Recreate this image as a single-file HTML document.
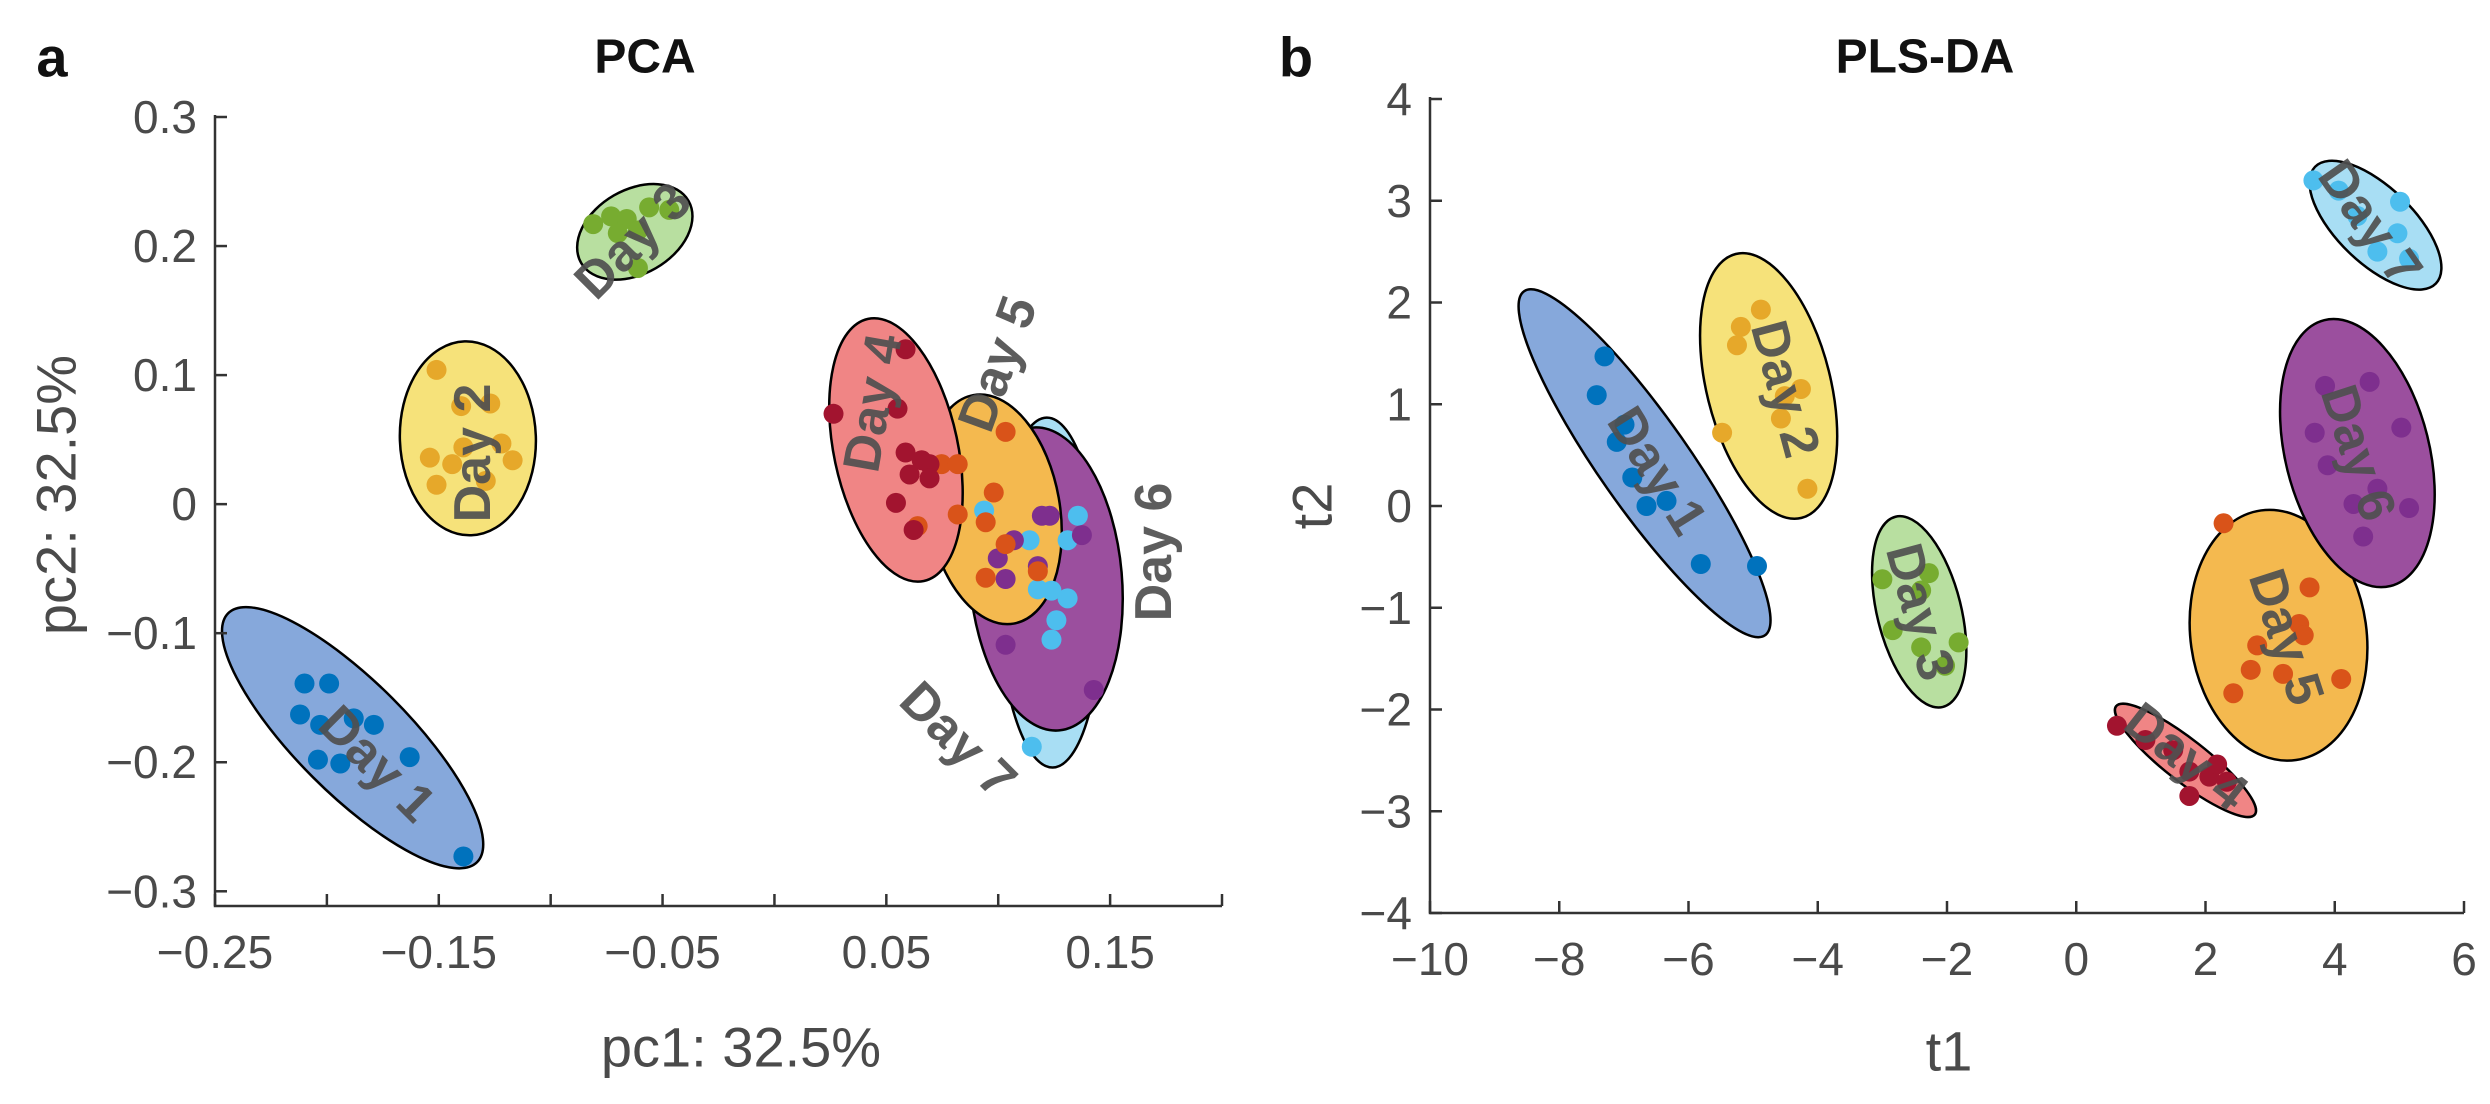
<!DOCTYPE html>
<html><head><meta charset="utf-8">
<style>
html,body{margin:0;padding:0;background:#fff;}
svg{display:block;font-family:"Liberation Sans",Arial,sans-serif;}
.tick{font-size:46px;fill:#4a4a4a;}
.axt{font-size:56px;fill:#4a4a4a;}
.ttl{font-size:48px;font-weight:bold;fill:#111;}
.lab{font-size:52px;font-weight:bold;fill:#505050;opacity:0.92;}
</style></head>
<body>
<svg id="chart" width="2490" height="1104" viewBox="0 0 2490 1104" xmlns="http://www.w3.org/2000/svg">
<g id="pa"></g>
<g id="pb"></g>
</svg>
<script>
// ---- shared ----
const dayNames = ["Day 1","Day 2","Day 3","Day 4","Day 5","Day 6","Day 7"];
const fillColors = ["#86a8db","#f6e27a","#b8dfa0","#f08585","#f4b94f","#9b4f9e","#a8def4"];
const dotColors = ["#0072bd","#e6a82a","#77ac30","#a2142f","#d95319","#7e2f8e","#4dbeee"];

// ---- Panel a (PCA) data ----
const pcaXTicks = [-0.25,-0.2,-0.15,-0.1,-0.05,0,0.05,0.1,0.15,0.2];
const pcaXTickLabels = ["\u22120.25","","\u22120.15","","\u22120.05","","0.05","","0.15",""];
const pcaYTicks = [0.3,0.2,0.1,0,-0.1,-0.2,-0.3];
const pcaYTickLabels = ["0.3","0.2","0.1","0","\u22120.1","\u22120.2","\u22120.3"];
const pcaX = [
 [-0.210,-0.199,-0.212,-0.203,-0.188,-0.179,-0.204,-0.194,-0.163,-0.139],
 [-0.151,-0.140,-0.127,-0.122,-0.117,-0.154,-0.144,-0.151,-0.129,-0.139],
 [-0.081,-0.073,-0.066,-0.056,-0.047,-0.070,-0.061,-0.061],
 [0.0586,0.0264,0.0550,0.0586,0.0604,0.0693,0.0693,0.0658,0.0543,0.0622],
 [0.0747,0.0819,0.1033,0.098,0.0819,0.0944,0.0944,0.1033,0.1177,0.064],
 [0.1195,0.1230,0.107,0.1374,0.0998,0.1033,0.1177,0.1033,0.1427],
 [0.0937,0.114,0.1356,0.131,0.1177,0.1238,0.131,0.126,0.1238,0.115]
];
const pcaY = [
 [-0.139,-0.139,-0.163,-0.171,-0.166,-0.171,-0.198,-0.201,-0.196,-0.273],
 [0.104,0.076,0.078,0.047,0.034,0.036,0.031,0.015,0.018,0.044],
 [0.217,0.223,0.221,0.230,0.228,0.210,0.212,0.183],
 [0.120,0.070,0.074,0.040,0.023,0.031,0.020,0.034,0.001,-0.020],
 [0.031,0.031,0.056,0.009,-0.008,-0.014,-0.057,-0.031,-0.052,-0.017],
 [-0.009,-0.009,-0.028,-0.024,-0.042,-0.058,-0.048,-0.109,-0.144],
 [-0.005,-0.028,-0.009,-0.028,-0.066,-0.067,-0.073,-0.090,-0.105,-0.188]
];
const pcaCenterX = [-0.1885,-0.137,-0.0624,0.0543,0.098,0.1213,0.123];
const pcaCenterY = [-0.181,0.051,0.211,0.042,-0.004,-0.058,-0.0685];

// ---- Panel b (PLS-DA) data ----
const plsXTicks = [-10,-8,-6,-4,-2,0,2,4,6];
const plsXTickLabels = ["\u221210","\u22128","\u22126","\u22124","\u22122","0","2","4","6"];
const plsYTicks = [4,3,2,1,0,-1,-2,-3,-4];
const plsYTickLabels = ["4","3","2","1","0","\u22121","\u22122","\u22123","\u22124"];
const plsX = [
 [-7.30,-7.42,-7.11,-6.87,-6.65,-6.34,-5.81,-4.94,-6.99],
 [-4.88,-5.19,-5.25,-4.26,-4.51,-4.57,-5.48,-4.16],
 [-3.00,-2.28,-2.40,-2.84,-2.40,-1.82,-2.03],
 [0.63,1.07,1.50,1.75,2.06,2.18,1.75,2.33],
 [2.28,3.61,3.45,2.80,2.70,3.20,4.10,2.43,3.52],
 [3.85,4.54,3.69,5.03,3.89,4.66,4.29,5.15,4.44],
 [3.67,4.06,4.35,5.01,4.97,4.66,5.15]
];
const plsY = [
 [1.47,1.09,0.63,0.28,0.00,0.05,-0.57,-0.59,0.80],
 [1.93,1.76,1.58,1.15,1.08,0.86,0.72,0.17],
 [-0.72,-0.66,-0.83,-1.22,-1.39,-1.34,-1.57],
 [-2.16,-2.30,-2.40,-2.61,-2.66,-2.54,-2.85,-2.71],
 [-0.17,-0.80,-1.16,-1.37,-1.61,-1.65,-1.70,-1.84,-1.27],
 [1.18,1.22,0.72,0.77,0.40,0.17,0.02,-0.02,-0.30],
 [3.20,3.10,2.85,2.99,2.68,2.50,2.43]
];
const plsCenterX = [-6.68,-4.76,-2.43,1.69,3.13,4.35,4.63];
const plsCenterY = [0.42,1.18,-1.04,-2.50,-1.27,0.52,2.76];

const NS = "http://www.w3.org/2000/svg";
function mk(parent, tag, attrs, text){
  const e = document.createElementNS(NS, tag);
  for (const k in attrs) e.setAttribute(k, attrs[k]);
  if (text !== undefined) e.textContent = text;
  parent.appendChild(e);
  return e;
}

function drawPanel(g, cfg){
  const sx = v => cfg.x0 + (v - cfg.xmin) / (cfg.xmax - cfg.xmin) * (cfg.x1 - cfg.x0);
  const sy = v => cfg.y0 + (cfg.ymax - v) / (cfg.ymax - cfg.ymin) * (cfg.y1 - cfg.y0);
  cfg.order.forEach(i => {
    const cx = sx(cfg.cx[i]), cy = sy(cfg.cy[i]);
    const st = cfg.shape[i];
    const el = mk(g, "ellipse", {cx:cx, cy:cy, rx:st[0], ry:st[1], transform:`rotate(${st[2]} ${cx} ${cy})`, fill:fillColors[i], stroke:"#000", "stroke-width":2.5});
    
    
  });
  cfg.order.forEach(i => {
    cfg.xs[i].forEach((v, j) => {
      const c = mk(g, "circle", {cx:sx(v), cy:sy(cfg.ys[i][j]), r:10, fill:dotColors[i]});
      
      
    });
  });
  cfg.labels.forEach((L, i) => {
    const t = mk(g, "text", {x:L[0], y:L[1], transform:`rotate(${L[2]} ${L[0]} ${L[1]})`, "text-anchor":"middle", "dominant-baseline":"central", class:"lab"}, dayNames[i]);
    
    
  });
  const ax = mk(g, "path", {d:`M${cfg.x0} ${cfg.y0 - 2} V${cfg.y1} H${cfg.x1}`, fill:"none", stroke:"#333", "stroke-width":2.5});
  
  
  cfg.xt.forEach((v, k) => {
    const x = sx(v);
    const tk = mk(g, "line", {x1:x, x2:x, y1:cfg.y1, y2:cfg.y1 - 12, stroke:"#333", "stroke-width":2.5});
    
    
    if (cfg.xtl[k]) {
      const t = mk(g, "text", {x:x, y:cfg.y1 + 62, "text-anchor":"middle", class:"tick"}, cfg.xtl[k]);
      
      
    }
  });
  cfg.yt.forEach((v, k) => {
    const y = sy(v);
    const tk = mk(g, "line", {x1:cfg.x0, x2:cfg.x0 + 12, y1:y, y2:y, stroke:"#333", "stroke-width":2.5});
    
    
    const t = mk(g, "text", {x:cfg.x0 - 18, y:y, "text-anchor":"end", "dominant-baseline":"central", class:"tick"}, cfg.ytl[k]);
    
    
  });
  const xt = mk(g, "text", {x:cfg.xTitle[0], y:cfg.xTitle[1], "text-anchor":"middle", "dominant-baseline":"central", class:"axt"}, cfg.xTitleText);
  
  
  const yt = mk(g, "text", {x:cfg.yTitle[0], y:cfg.yTitle[1], transform:`rotate(-90 ${cfg.yTitle[0]} ${cfg.yTitle[1]})`, "text-anchor":"middle", "dominant-baseline":"central", class:"axt"}, cfg.yTitleText);
  
  
  const tt = mk(g, "text", {x:cfg.title[0], y:cfg.title[1], "text-anchor":"middle", "dominant-baseline":"central", class:"ttl"}, cfg.titleText);
  
  
  const pl = mk(g, "text", {x:cfg.letter[0], y:cfg.letter[1], "text-anchor":"middle", "dominant-baseline":"central", class:"ttl", style:"font-size:56px"}, cfg.letterText);
  
  
}

drawPanel(document.getElementById("pa"), {
  x0:215, x1:1222, y0:117, y1:906,
  xmin:-0.25, xmax:0.2, ymin:-0.3 - 0.0114, ymax:0.3,
  cx:pcaCenterX, cy:pcaCenterY, xs:pcaX, ys:pcaY,
  order:[0,1,2,6,5,4,3],
  shape:[[176,56,45],[97,68,88],[62,42,-30],[134,62,78],[116,66,80],[152,76,85],[175,52,89]],
  labels:[[377,764,45],[473,453,-90],[633,241,-45],[873,403,-80],[998,364,-70],[1154,552,-90],[958,740,45]],
  xt:pcaXTicks, xtl:pcaXTickLabels, yt:pcaYTicks, ytl:pcaYTickLabels,
  xTitle:[741,1047], xTitleText:"pc1: 32.5%",
  yTitle:[56,495], yTitleText:"pc2: 32.5%",
  title:[645,57], titleText:"PCA", letter:[52,57], letterText:"a"
});
drawPanel(document.getElementById("pb"), {
  x0:1430, x1:2464, y0:99, y1:913,
  xmin:-10, xmax:6, ymin:-4, ymax:4,
  cx:plsCenterX, cy:plsCenterY, xs:plsX, ys:plsY,
  order:[0,1,2,3,4,5,6],
  shape:[[210,45,55],[136,62,76],[98,42,76],[88,21,38],[126,88,82],[137,72,76],[84,38,44]],
  labels:[[1657,471,58],[1785,389,75],[1920,612,75],[2186,757,38],[2286,637,72],[2358,453,72],[2370,223,55]],
  xt:plsXTicks, xtl:plsXTickLabels, yt:plsYTicks, ytl:plsYTickLabels,
  xTitle:[1949,1051], xTitleText:"t1",
  yTitle:[1312,506], yTitleText:"t2",
  title:[1925,57], titleText:"PLS-DA", letter:[1296,57], letterText:"b"
});
</script>
</body></html>
